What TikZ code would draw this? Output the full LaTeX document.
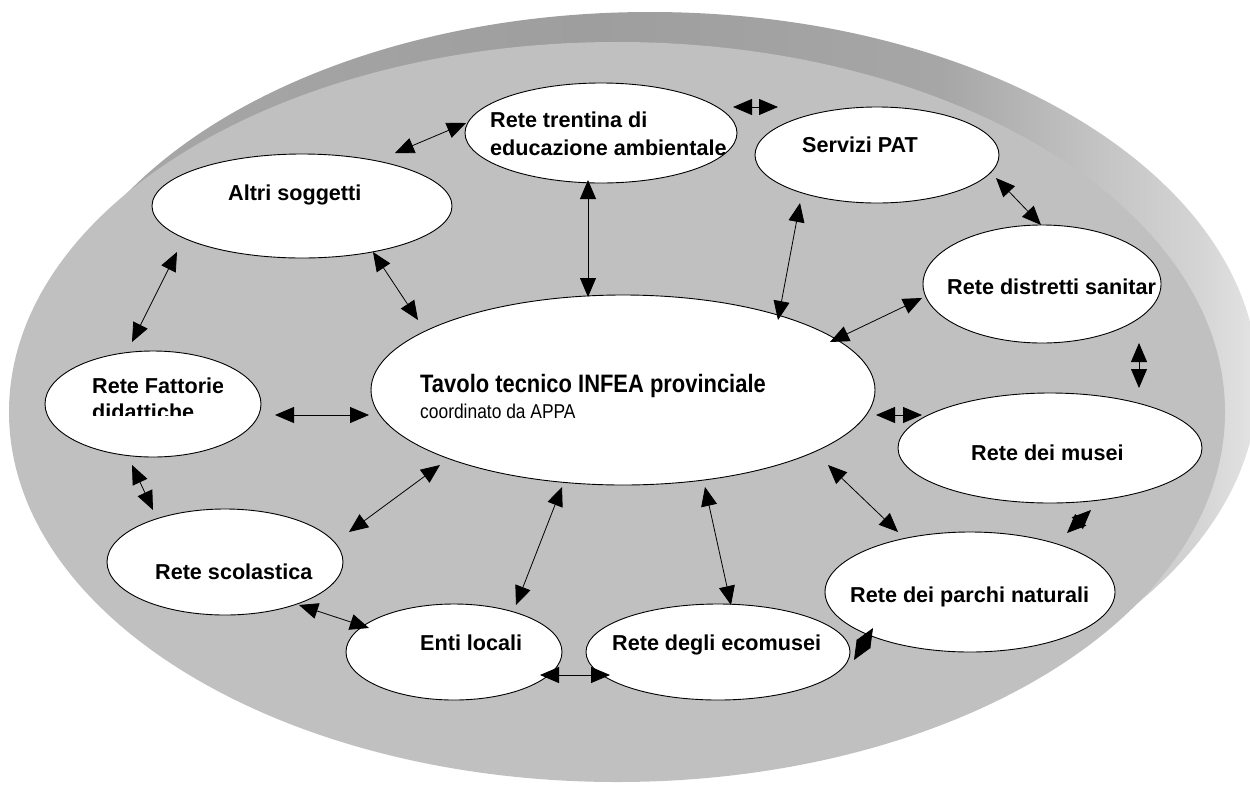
\documentclass[tikz,border=0pt]{standalone}
\usepackage{fontspec}
\setmainfont{Liberation Sans}
\newfontfamily\narrowfont[FakeStretch=0.87]{Liberation Sans}
\usetikzlibrary{arrows.meta,calc,shapes.geometric}
\definecolor{facegray}{HTML}{C0C0C0}
\definecolor{rimA}{HTML}{A8A8A8}
\definecolor{rimB}{HTML}{9E9E9E}
\definecolor{rimC}{HTML}{A6A6A6}
\definecolor{rimD}{HTML}{C4C4C4}
\definecolor{rimF}{HTML}{D4D4D4}
\definecolor{rimE}{HTML}{E4E4E4}
% TikZ maps the central 25bp--75bp of a shading onto the path
\pgfdeclarehorizontalshading{rimshade}{100bp}{color(0bp)=(rimA); color(25bp)=(rimA); color(47.5bp)=(rimB); color(62bp)=(rimC); color(68.5bp)=(rimD); color(72.5bp)=(rimF); color(75bp)=(rimE); color(100bp)=(rimE)}
\tikzset{
  bub/.style={ellipse, draw=black, line width=0.9pt, fill=white, inner sep=0pt},
  lab/.style={font=\fontsize{21.6}{24}\selectfont\bfseries, inner sep=0pt, anchor=base west},
  bigtri/.tip={Triangle[length=19pt,width=16pt]},
  conn/.style={bigtri-bigtri, line width=0.8pt}
}
\begin{document}
\begin{tikzpicture}[x=1pt,y=-1pt]
\useasboundingbox (0,0) rectangle (1250,785);
% disc: rim (face shifted up-right) and face
\shade[shading=rimshade] (650,382) ellipse [x radius=608, y radius=370];
\fill[facegray] (617,412) ellipse [x radius=608, y radius=370];
% bubbles
\node[bub, minimum width=272, minimum height=100] (trent) at (601,133) {};
\node[bub, minimum width=244, minimum height=96] (serv) at (877,155) {};
\node[bub, minimum width=300, minimum height=104] (altri) at (302,206) {};
\node[bub, minimum width=238, minimum height=118] (distr) at (1042,284) {};
\node[bub, minimum width=216, minimum height=106] (fatt) at (153,404) {};
\node[bub, minimum width=504, minimum height=190] (tavolo) at (623,390) {};
\node[bub, minimum width=304, minimum height=110] (musei) at (1050,448) {};
\node[bub, minimum width=236, minimum height=106] (scol) at (225,562) {};
\node[bub, minimum width=290, minimum height=120] (parchi) at (970,592) {};
\node[bub, minimum width=216, minimum height=96] (enti) at (454,652) {};
\node[bub, minimum width=264, minimum height=96] (eco) at (718,652) {};
% labels
\node[lab] (trentA) at (490,127) {Rete trentina di};
\node[lab] (trentB) at (490,155) {educazione ambientale};
\node[lab] (servT) at (802,152) {Servizi PAT};
\node[lab] (altriT) at (228,200) {Altri soggetti};
\node[lab] (distrT) at (947,294) {Rete distretti sanitar};
\begin{scope}
\clip (80,360) rectangle (222,415);
\node[lab] (fattA) at (92,393) {Rete Fattorie};
\node[lab] (fattB) at (92,419) {didattiche};
\end{scope}
\node[inner sep=0pt, anchor=base west, font=\narrowfont\fontsize{25.2}{28}\selectfont\bfseries] (tavT) at (420,392) {Tavolo tecnico INFEA provinciale};
\node[inner sep=0pt, anchor=base west, font=\narrowfont\fontsize{20}{24}\selectfont] (tavS) at (420,418) {coordinato da APPA};
\node[lab] (museiT) at (971,460) {Rete dei musei};
\node[lab] (scolT) at (155,579) {Rete scolastica};
\node[lab] (parchiT) at (850,602) {Rete dei parchi naturali};
\node[lab] (entiT) at (420,650) {Enti locali};
\node[lab] (ecoT) at (612,650) {Rete degli ecomusei};
% connectors
\draw[conn] ($(altri)+(93,-53)$) -- ($(trent)+(-135,-10)$);
\draw[conn] ($(trent)+(-13,47)$) -- ($(tavolo)+(-35,-93)$);
\draw[conn] ($(trent)+(132,-26)$) -- ($(serv)+(-99,-48)$);
\draw[conn] ($(serv)+(-77,48)$) -- ($(tavolo)+(155,-70)$);
\draw[conn] ($(serv)+(119,23)$) -- ($(distr)+(-1,-59)$);
\draw[conn] ($(distr)+(-120,14)$) -- ($(tavolo)+(207,-48)$);
\draw[conn] ($(distr)+(97,59)$) -- ($(musei)+(89,-60)$);
\draw[conn] ($(tavolo)+(253,25)$) -- ($(musei)+(-128,-33)$);
\draw[conn] ($(musei)+(41,62)$) -- ($(parchi)+(97,-59)$);
\draw[conn] ($(tavolo)+(205,75)$) -- ($(parchi)+(-72,-60)$);
\draw[conn] ($(eco)+(136,8)$) -- ($(parchi)+(-97,36)$);
\draw[conn] ($(tavolo)+(82,97)$) -- ($(eco)+(13,-47)$);
\draw[conn] ($(eco)+(-108,23)$) -- ($(enti)+(86,23)$);
\draw[conn] ($(tavolo)+(-61,97)$) -- ($(enti)+(62,-47)$);
\draw[conn] ($(enti)+(-85,-24)$) -- ($(scol)+(74,43)$);
\draw[conn] ($(tavolo)+(-183,75)$) -- ($(scol)+(124,-30)$);
\draw[conn] ($(scol)+(-72,-52)$) -- ($(fatt)+(-21,61)$);
\draw[conn] ($(fatt)+(122,11)$) -- ($(tavolo)+(-254,25)$);
\draw[conn] ($(fatt)+(-21,-62)$) -- ($(altri)+(-125,46)$);
\draw[conn] ($(altri)+(71,46)$) -- ($(tavolo)+(-205,-70)$);
\end{tikzpicture}
\end{document}
